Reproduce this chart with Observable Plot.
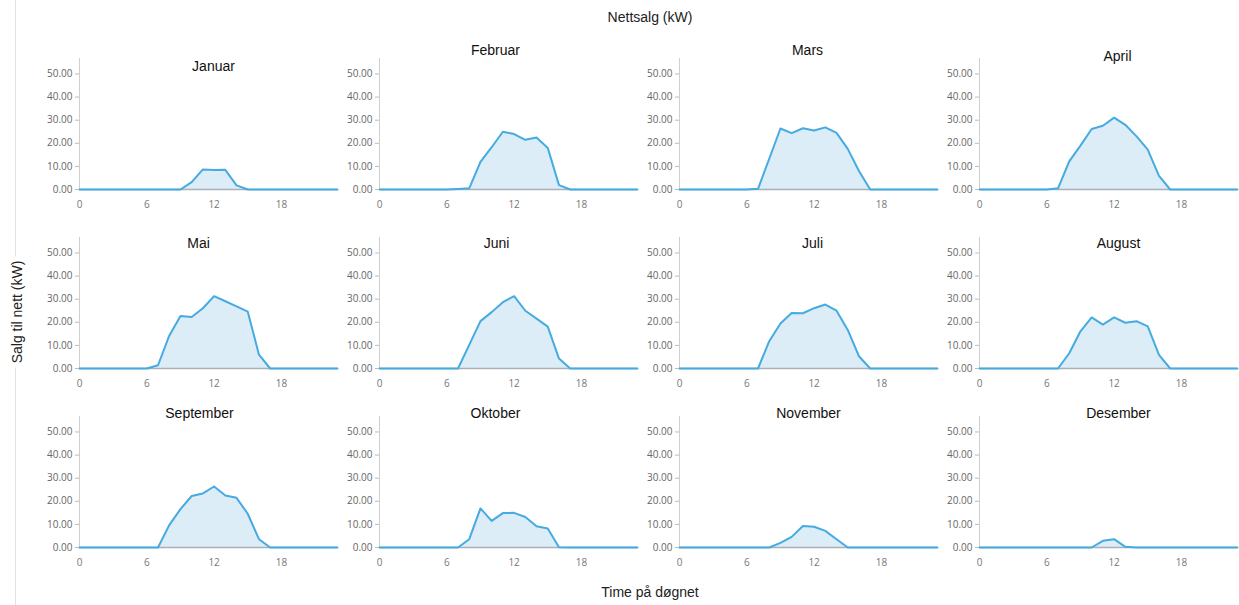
<!DOCTYPE html>
<html>
<head>
<meta charset="utf-8">
<script src="https://cdn.jsdelivr.net/npm/d3@7"></script>
<script src="https://cdn.jsdelivr.net/npm/@observablehq/plot@0.6"></script>
<style>
  body { margin: 0; background: #fff; }
  #wrap { position: relative; width: 1239px; height: 605px; overflow: hidden; font-family: "Liberation Sans", Arial, sans-serif; }
  #chart { position: absolute; left: 0; top: 0; }
  #title { position: absolute; top: 9px; left: 550px; width: 200px; text-align: center; font-size: 14px; color: #222; }
  #xlabel { position: absolute; top: 584px; left: 550px; width: 200px; text-align: center; font-size: 14px; color: #222; }
  #ylabel { position: absolute; left: 17px; top: 312px; transform: translate(-50%, -50%) rotate(-90deg); white-space: nowrap; font-size: 14px; color: #222; background: #fff; padding: 0 4px; }
  #vline { position: absolute; left: 15px; top: 0; width: 1px; height: 605px; background: #e2e2e2; }
</style>
</head>
<body>
<div id="wrap">
  <div id="vline"></div>
  <div id="chart"></div>
  <div id="title">Nettsalg (kW)</div>
  <div id="ylabel">Salg til nett (kW)</div>
  <div id="xlabel">Time på døgnet</div>
</div>
<script>
const months = ["Januar","Februar","Mars","April","Mai","Juni","Juli","August","September","Oktober","November","Desember"];
const hours = [0,1,2,3,4,5,6,7,8,9,10,11,12,13,14,15,16,17,18,19,20,21,22,23];
const xTicks = [0,6,12,18];
const yTicks = [0,10,20,30,40,50];

const januar    = [0,0,0,0,0,0,0,0,0,0,3.2,8.7,8.4,8.5,1.8,0,0,0,0,0,0,0,0,0];
const februar   = [0,0,0,0,0,0,0,0.2,0.5,12,18.3,25,24,21.5,22.5,18,1.9,0,0,0,0,0,0,0];
const mars      = [0,0,0,0,0,0,0,0.3,13.3,26.4,24.4,26.5,25.5,26.9,24.5,17.6,8,0,0,0,0,0,0,0];
const april     = [0,0,0,0,0,0,0,0.5,12.2,19,26.2,27.6,31.1,28,23,17.3,5.9,0,0,0,0,0,0,0];
const mai       = [0,0,0,0,0,0,0,1.4,14.2,22.7,22.3,26.1,31.3,29.1,26.9,24.6,6,0,0,0,0,0,0,0];
const juni      = [0,0,0,0,0,0,0,0,10.2,20.5,24.4,28.7,31.3,25,21.6,18.1,4.3,0,0,0,0,0,0,0];
const juli      = [0,0,0,0,0,0,0,0,11.8,19.5,24,23.9,26.1,27.7,25,16.7,5.3,0,0,0,0,0,0,0];
const august    = [0,0,0,0,0,0,0,0,6.6,16.1,22.1,19,22.1,19.8,20.5,18.2,5.9,0,0,0,0,0,0,0];
const september = [0,0,0,0,0,0,0,0,9.7,16.6,22.3,23.4,26.4,22.5,21.5,14.6,3.6,0,0,0,0,0,0,0];
const oktober   = [0,0,0,0,0,0,0,0,3.6,16.9,11.5,14.9,15,13.2,9.2,8.2,0.1,0,0,0,0,0,0,0];
const november  = [0,0,0,0,0,0,0,0,0,2,4.6,9.3,9,7.2,3.6,0,0,0,0,0,0,0,0,0];
const desember  = [0,0,0,0,0,0,0,0,0,0,0,2.9,3.6,0.3,0,0,0,0,0,0,0,0,0,0];

const series = [januar,februar,mars,april,mai,juni,juli,august,september,oktober,november,desember];

const data = months.flatMap((m, i) => hours.map((h, j) => ({
  month: m, col: i % 4, row: Math.floor(i / 4), hour: h, kw: series[i][j]
})));

// title offsets (style, px)
const titleOffset = {
  Januar:[5,8], Februar:[-13,-7.5], Mars:[-1,-7.5], April:[9,-2],
  Mai:[-10,6.5], Juni:[-12,6.5], Juli:[4,6.5], August:[10,6],
  September:[-9,-2.5], Oktober:[-13,-2.5], November:[0,-2.5], Desember:[10,-2.5]
};

const titleMarks = months.map((m, i) => Plot.text([{month: m, col: i % 4, row: Math.floor(i / 4)}], {
  fx: "col", fy: "row", text: "month", frameAnchor: "top", lineAnchor: "middle",
  dx: titleOffset[m][0], dy: titleOffset[m][1],
  fill: "#111", fontSize: 14, fontFamily: "'Liberation Sans', Arial, sans-serif"
}));

const chart = Plot.plot({
  width: 1239,
  height: 580,
  marginLeft: 79,
  marginRight: 2,
  marginTop: 57,
  marginBottom: 31.5,
  style: { fontFamily: "'Open Sans', sans-serif", fontSize: "10px", background: "transparent", overflow: "visible" },
  fx: { domain: [0,1,2,3], paddingInner: 0.14, paddingOuter: 0, axis: null },
  fy: { domain: [0,1,2], paddingInner: 0.269, paddingOuter: 0, axis: null },
  x: { domain: [0, 23] },
  y: { domain: [0, 56.7] },
  marks: [
    Plot.areaY(data, { x: "hour", y: "kw", fx: "col", fy: "row", fill: "#dcedf8" }),
    Plot.ruleX([0], { stroke: "#cfcfcf" }),
    Plot.ruleY([0], { stroke: "#a9b1b8", strokeWidth: 1.5 }),
    Plot.lineY(data, { x: "hour", y: "kw", fx: "col", fy: "row", stroke: "#45abe0", strokeWidth: 2 }),
    Plot.axisY({ ticks: yTicks, tickFormat: d => d.toFixed(2), tickSize: 4, tickPadding: 3, facetAnchor: null, label: null, stroke: "#bbb", fill: "#666" }),
    Plot.axisX({ ticks: xTicks, tickSize: 0, tickPadding: 11, facetAnchor: null, label: null, fill: "#777" }),
    ...titleMarks
  ]
});
document.getElementById("chart").appendChild(chart);
</script>
</body>
</html>
